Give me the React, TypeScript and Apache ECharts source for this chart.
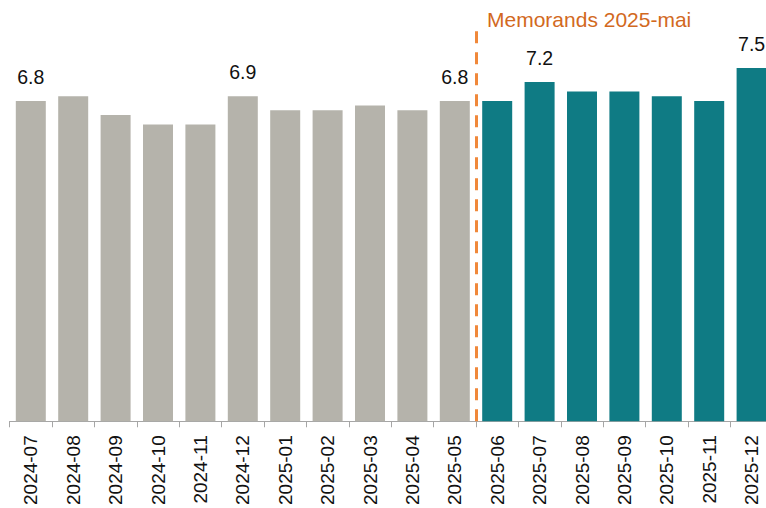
import React, { useEffect, useRef } from "react";
import * as echarts from "echarts";

const months = [
  "2024-07", "2024-08", "2024-09", "2024-10", "2024-11", "2024-12",
  "2025-01", "2025-02", "2025-03", "2025-04", "2025-05",
  "2025-06", "2025-07", "2025-08", "2025-09", "2025-10", "2025-11", "2025-12",
];
const values = [6.8, 6.9, 6.5, 6.3, 6.3, 6.9, 6.6, 6.6, 6.7, 6.6, 6.8, 6.8, 7.2, 7.0, 7.0, 6.9, 6.8, 7.5];
const labelledMonths = ["2024-07", "2024-12", "2025-05", "2025-07", "2025-12"];
const firstForecastMonth = "2025-06";
const markerTitle = "Memorands 2025-mai";

const GRAY = "#b5b3ab";
const TEAL = "#0f7b84";
const FONT = "'Liberation Sans', Arial, sans-serif";

export default function App() {
  const ref = useRef<HTMLDivElement>(null);
  useEffect(() => {
    if (!ref.current) return;
    const chart = echarts.init(ref.current, null, { renderer: "svg" });
    const splitIndex = months.indexOf(firstForecastMonth);
    chart.setOption({
      animation: false,
      grid: { left: 9.6, width: 763.2, top: 30.2, bottom: 82, containLabel: false },
      xAxis: [
        {
          type: "category",
          data: months,
          axisLine: { lineStyle: { color: "#a6a6a6", width: 1 } },
          axisTick: { show: true, length: 6, lineStyle: { color: "#a6a6a6" } },
          axisLabel: {
            rotate: 90,
            fontSize: 19,
            color: "#111111",
            fontFamily: FONT,
            margin: 14,
            interval: 0,
          },
        },
        { type: "value", min: 0, max: months.length, show: false },
      ],
      yAxis: { type: "value", min: 0, max: 8.3, show: false, splitLine: { show: false } },
      series: [
        {
          type: "bar",
          barWidth: 30,
          data: values.map((v, i) => ({
            value: v,
            itemStyle: { color: i < splitIndex ? GRAY : TEAL },
            label: { show: labelledMonths.includes(months[i]) },
          })),
          label: {
            position: "top",
            distance: 14,
            fontSize: 19.5,
            color: "#111111",
            fontFamily: FONT,
            formatter: (p: any) => Number(p.value).toFixed(1),
          },
        },
        {
          type: "scatter",
          xAxisIndex: 1,
          data: [],
          markLine: {
            symbol: "none",
            silent: true,
            label: { show: false },
            lineStyle: { color: "#f0883a", width: 3, type: [12, 9] },
            data: [{ xAxis: splitIndex }],
          },
        },
      ],
      graphic: [
        {
          type: "text",
          left: 487,
          top: 9,
          style: {
            text: markerTitle,
            fontSize: 21,
            fontFamily: FONT,
            fill: "#d2691e",
          },
        },
      ],
    });
    return () => chart.dispose();
  }, []);
  return (
    <div style={{ position: "fixed", left: 0, top: 0, width: 766, height: 508, overflow: "hidden", background: "#fff" }}>
      <div ref={ref} style={{ width: 790, height: 508 }} />
    </div>
  );
}
